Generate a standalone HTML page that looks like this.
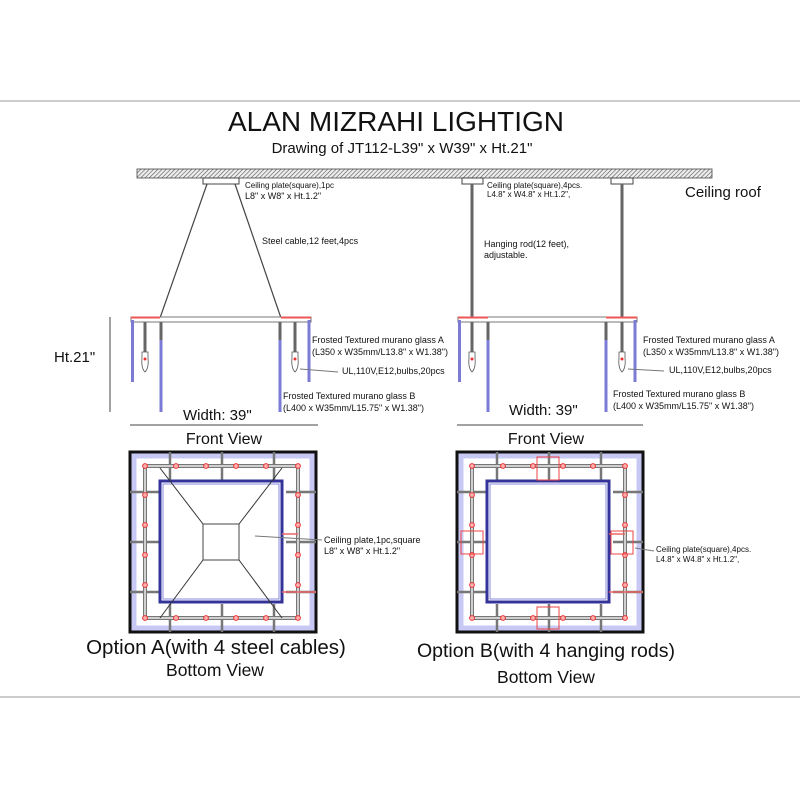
<!DOCTYPE html>
<html><head><meta charset="utf-8"><style>
body{margin:0;background:#fff}
svg{display:block}
text{font-family:"Liberation Sans",sans-serif;fill:#111}
</style></head><body>
<svg width="800" height="800" viewBox="0 0 800 800" xmlns="http://www.w3.org/2000/svg">
<defs>
<pattern id="hatch" width="3" height="3" patternUnits="userSpaceOnUse" patternTransform="rotate(45)">
<rect width="3" height="3" fill="#eee"/><line x1="0" y1="0" x2="0" y2="3" stroke="#555" stroke-width="1.2"/></pattern>
<g id="dot"><circle r="2.4" fill="#f8b0b0" stroke="#e33" stroke-width="1"/></g>
<g id="bulb"><line x1="0" y1="0" x2="0" y2="30" stroke="#666" stroke-width="3"/><path d="M-3,30 h6 v6 q1,10 -3,14 q-4,-4 -3,-14 z" fill="#fff" stroke="#555" stroke-width="0.8"/><circle cy="37" r="1.5" fill="#e33"/></g>
<g id="bv">
<rect x="0" y="0" width="186" height="180" fill="#fff" stroke="#111" stroke-width="3"/>
<rect x="4" y="4" width="178" height="172" fill="none" stroke="#c8c8f4" stroke-width="5"/>
<g stroke="#777" stroke-width="2.5">
<line x1="40" y1="0" x2="40" y2="28"/><line x1="92" y1="0" x2="92" y2="28"/><line x1="144" y1="0" x2="144" y2="28"/>
<line x1="40" y1="152" x2="40" y2="180"/><line x1="92" y1="152" x2="92" y2="180"/><line x1="144" y1="152" x2="144" y2="180"/>
<line x1="0" y1="40" x2="30" y2="40"/><line x1="0" y1="90" x2="30" y2="90"/><line x1="0" y1="140" x2="30" y2="140"/>
<line x1="156" y1="40" x2="186" y2="40"/><line x1="156" y1="90" x2="186" y2="90"/><line x1="156" y1="140" x2="186" y2="140"/>
</g>
<rect x="15" y="14" width="153" height="152" fill="none" stroke="#777" stroke-width="4"/>
<rect x="15" y="14" width="153" height="152" fill="none" stroke="#eee" stroke-width="1.5"/>
<rect x="30" y="29" width="122" height="121" fill="#fff" stroke="#33339a" stroke-width="3"/>
<rect x="33" y="32" width="116" height="115" fill="none" stroke="#8a8ae0" stroke-width="1"/>
<g>
<use href="#dot" x="15" y="14"/><use href="#dot" x="46" y="14"/><use href="#dot" x="76" y="14"/><use href="#dot" x="106" y="14"/><use href="#dot" x="136" y="14"/><use href="#dot" x="168" y="14"/>
<use href="#dot" x="15" y="166"/><use href="#dot" x="46" y="166"/><use href="#dot" x="76" y="166"/><use href="#dot" x="106" y="166"/><use href="#dot" x="136" y="166"/><use href="#dot" x="168" y="166"/>
<use href="#dot" x="15" y="43"/><use href="#dot" x="15" y="73"/><use href="#dot" x="15" y="103"/><use href="#dot" x="15" y="133"/>
<use href="#dot" x="168" y="43"/><use href="#dot" x="168" y="73"/><use href="#dot" x="168" y="103"/><use href="#dot" x="168" y="133"/>
</g>
<line x1="152" y1="82" x2="168" y2="82" stroke="#e66" stroke-width="1.5"/>
<line x1="152" y1="140" x2="186" y2="140" stroke="#e66" stroke-width="1.5"/>
</g>
</defs>
<rect width="800" height="800" fill="#fff"/>
<line x1="0" y1="101" x2="800" y2="101" stroke="#ccc" stroke-width="2"/>
<line x1="0" y1="697" x2="800" y2="697" stroke="#ccc" stroke-width="2"/>
<text x="396" y="131" font-size="28" text-anchor="middle">ALAN MIZRAHI LIGHTIGN</text>
<text x="402" y="153" font-size="15" text-anchor="middle">Drawing of JT112-L39" x W39" x Ht.21"</text>
<rect x="137" y="169" width="575" height="9" fill="url(#hatch)" stroke="#444" stroke-width="0.8"/>
<text x="685" y="197" font-size="15">Ceiling roof</text>
<!-- left front -->
<rect x="203" y="178" width="36" height="6" fill="#fff" stroke="#444"/>
<line x1="207" y1="184" x2="160" y2="318" stroke="#444" stroke-width="1.2"/>
<line x1="235" y1="184" x2="281" y2="318" stroke="#444" stroke-width="1.2"/>
<text x="245" y="188" font-size="8">Ceiling plate(square),1pc</text>
<text x="245" y="199" font-size="9">L8" x W8" x Ht.1.2"</text>
<text x="262" y="244" font-size="9">Steel cable,12 feet,4pcs</text>
<rect x="131" y="317" width="180" height="5" fill="#fff" stroke="#777"/>
<line x1="131" y1="317.5" x2="160" y2="317.5" stroke="#e55" stroke-width="2"/>
<line x1="281" y1="317.5" x2="311" y2="317.5" stroke="#e55" stroke-width="2"/>
<g stroke="#7b7bd6" stroke-width="3"><line x1="132.5" y1="320" x2="132.5" y2="382"/><line x1="161" y1="340" x2="161" y2="412"/><line x1="280" y1="340" x2="280" y2="412"/><line x1="309" y1="320" x2="309" y2="382"/></g>
<g stroke="#666" stroke-width="3"><line x1="161" y1="322" x2="161" y2="340"/><line x1="280" y1="322" x2="280" y2="340"/></g>
<use href="#bulb" x="145" y="322"/><use href="#bulb" x="295" y="322"/>
<line x1="110" y1="317" x2="110" y2="412" stroke="#444"/>
<text x="54" y="362" font-size="15">Ht.21"</text>
<text x="312" y="343" font-size="9">Frosted Textured murano glass A</text>
<text x="312" y="355" font-size="9">(L350 x W35mm/L13.8" x W1.38")</text>
<line x1="300" y1="369" x2="338" y2="372" stroke="#777"/>
<text x="342" y="374" font-size="9">UL,110V,E12,bulbs,20pcs</text>
<text x="283" y="399" font-size="9">Frosted Textured murano glass B</text>
<text x="283" y="411" font-size="9">(L400 x W35mm/L15.75" x W1.38")</text>
<text x="183" y="420" font-size="15">Width: 39"</text>
<line x1="130" y1="425" x2="318" y2="425" stroke="#444"/>
<text x="224" y="444" font-size="16" text-anchor="middle">Front View</text>
<!-- right front -->
<rect x="462" y="178" width="21" height="6" fill="#fff" stroke="#444"/>
<rect x="611" y="178" width="22" height="6" fill="#fff" stroke="#444"/>
<g stroke="#666" stroke-width="3"><line x1="472" y1="184" x2="472" y2="322"/><line x1="622" y1="184" x2="622" y2="322"/></g>
<text x="487" y="188" font-size="8">Ceiling plate(square),4pcs.</text>
<text x="487" y="197" font-size="8">L4.8" x W4.8" x Ht.1.2",</text>
<text x="484" y="247" font-size="9">Hanging rod(12 feet),</text>
<text x="484" y="258" font-size="9">adjustable.</text>
<rect x="458" y="317" width="179" height="5" fill="#fff" stroke="#777"/>
<line x1="458" y1="317.5" x2="488" y2="317.5" stroke="#e55" stroke-width="2"/>
<line x1="606" y1="317.5" x2="637" y2="317.5" stroke="#e55" stroke-width="2"/>
<g stroke="#7b7bd6" stroke-width="3"><line x1="459.5" y1="320" x2="459.5" y2="382"/><line x1="488" y1="340" x2="488" y2="412"/><line x1="606" y1="340" x2="606" y2="412"/><line x1="635" y1="320" x2="635" y2="382"/></g>
<g stroke="#666" stroke-width="3"><line x1="488" y1="322" x2="488" y2="340"/><line x1="606" y1="322" x2="606" y2="340"/></g>
<use href="#bulb" x="472" y="322"/><use href="#bulb" x="622" y="322"/>
<text x="643" y="343" font-size="9">Frosted Textured murano glass A</text>
<text x="643" y="355" font-size="9">(L350 x W35mm/L13.8" x W1.38")</text>
<line x1="628" y1="369" x2="664" y2="371" stroke="#777"/>
<text x="669" y="373" font-size="9">UL,110V,E12,bulbs,20pcs</text>
<text x="613" y="397" font-size="9">Frosted Textured murano glass B</text>
<text x="613" y="409" font-size="9">(L400 x W35mm/L15.75" x W1.38")</text>
<text x="509" y="415" font-size="15">Width: 39"</text>
<line x1="457" y1="425" x2="643" y2="425" stroke="#444"/>
<text x="546" y="444" font-size="16" text-anchor="middle">Front View</text>
<!-- bottom A -->
<g transform="translate(130,452)"><use href="#bv"/>
<rect x="73" y="72" width="36" height="36" fill="#fff" stroke="#444"/>
<g stroke="#333" stroke-width="1"><line x1="73" y1="72" x2="30" y2="16"/><line x1="109" y1="72" x2="152" y2="16"/><line x1="73" y1="108" x2="30" y2="166"/><line x1="109" y1="108" x2="152" y2="166"/></g>
</g>
<line x1="255" y1="536" x2="322" y2="540" stroke="#777"/>
<text x="324" y="543" font-size="9">Ceiling plate,1pc,square</text>
<text x="324" y="554" font-size="9">L8" x W8" x Ht.1.2"</text>
<text x="216" y="654" font-size="20.5" text-anchor="middle">Option A(with 4 steel cables)</text>
<text x="215" y="676" font-size="17.5" text-anchor="middle">Bottom View</text>
<!-- bottom B -->
<g transform="translate(457,452)"><use href="#bv"/>
<g fill="none" stroke="#e44" stroke-width="1"><rect x="80" y="5" width="22" height="23"/><rect x="80" y="155" width="22" height="22"/><rect x="4" y="79" width="22" height="23"/><rect x="154" y="79" width="22" height="23"/></g>
</g>
<line x1="635" y1="548" x2="654" y2="551" stroke="#777"/>
<text x="656" y="552" font-size="8">Ceiling plate(square),4pcs.</text>
<text x="656" y="562" font-size="8">L4.8" x W4.8" x Ht.1.2",</text>
<text x="546" y="657" font-size="19.5" text-anchor="middle">Option B(with 4 hanging rods)</text>
<text x="546" y="683" font-size="17.5" text-anchor="middle">Bottom View</text>
</svg>
</body></html>
